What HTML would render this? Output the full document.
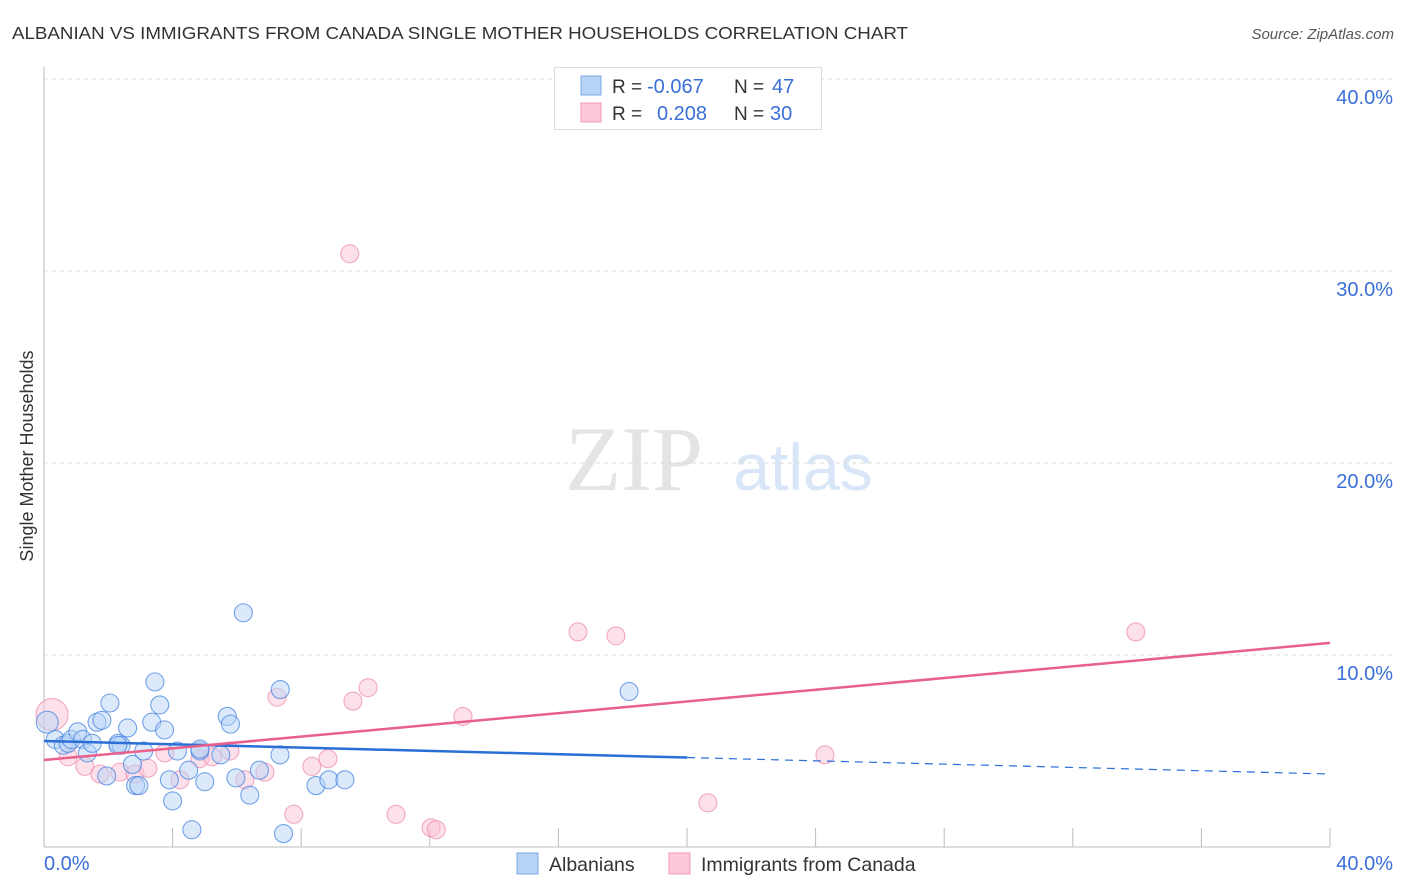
<!DOCTYPE html>
<html><head><meta charset="utf-8"><style>
body{margin:0;background:#fff;font-family:"Liberation Sans",sans-serif;}
svg{display:block}
</style></head><body>
<svg width="1406" height="892" xmlns="http://www.w3.org/2000/svg">
<text x="12" y="39" font-size="17.5" fill="#333" textLength="896" lengthAdjust="spacingAndGlyphs">ALBANIAN VS IMMIGRANTS FROM CANADA SINGLE MOTHER HOUSEHOLDS CORRELATION CHART</text>
<text x="1394" y="39" font-size="15" fill="#555" font-style="italic" text-anchor="end">Source: ZipAtlas.com</text>
<text x="33" y="456" font-size="18" fill="#333" text-anchor="middle" transform="rotate(-90 33 456)">Single Mother Households</text>
<g>
<text x="634" y="490" font-size="92" fill="#e4e4e4" font-family="Liberation Serif,serif" text-anchor="middle">ZIP</text>
<text x="803" y="490" font-size="66" fill="#d8e6f7" text-anchor="middle">atlas</text>
</g>
<g id="grid"></g>
<g id="axes"></g>
<g id="marks"></g>
<g>
<rect x="554.5" y="67.5" width="267" height="62" fill="#fff" stroke="#ddd"/>
<rect x="581" y="76" width="20" height="19" fill="#b7d3f5" stroke="#7aaae6"/>
<rect x="581" y="103" width="20" height="19" fill="#fdc9d9" stroke="#f09ab5"/>
<text x="612" y="93" font-size="19" fill="#333">R =</text><text x="647" y="93" font-size="20" fill="#3a6fd8">-0.067</text>
<text x="734" y="93" font-size="19" fill="#333">N =</text><text x="772" y="93" font-size="20" fill="#3a6fd8">47</text>
<text x="612" y="120" font-size="19" fill="#333">R =</text><text x="657" y="120" font-size="20" fill="#3a6fd8">0.208</text>
<text x="734" y="120" font-size="19" fill="#333">N =</text><text x="770" y="120" font-size="20" fill="#3a6fd8">30</text>
</g>
<g>
<rect x="517" y="853" width="21" height="21" fill="#b7d3f5" stroke="#7aaae6"/>
<text x="549" y="871" font-size="19.5" fill="#333">Albanians</text>
<rect x="669" y="853" width="21" height="21" fill="#fdc9d9" stroke="#f09ab5"/>
<text x="701" y="871" font-size="19.5" fill="#333">Immigrants from Canada</text>
</g>
</svg>
<script>
const yTicks=[10,20,30,40];
const yTickLabels=["10.0%","20.0%","30.0%","40.0%"];
const xTickCount=10;
const albX=[0.1,0.35,0.6,0.75,0.85,1.05,1.2,1.35,1.5,1.65,1.8,1.95,2.05,2.3,2.4,2.6,2.75,2.85,2.95,3.1,3.35,3.45,3.6,3.75,3.9,4.0,4.15,4.5,4.6,4.85,4.85,5.0,5.5,5.7,5.8,5.97,6.2,6.4,6.7,7.34,7.35,7.45,8.46,8.86,9.36,18.2,2.3];
const albY=[6.5,5.6,5.3,5.4,5.6,6.0,5.6,4.9,5.4,6.5,6.6,3.7,7.5,5.4,5.3,6.2,4.3,3.2,3.2,5.0,6.5,8.6,7.4,6.1,3.5,2.4,5.0,4.0,0.9,5.0,5.1,3.4,4.8,6.8,6.4,3.6,12.2,2.7,4.0,4.8,8.2,0.7,3.2,3.5,3.5,8.1,5.3];
const canX=[0.25,0.75,1.27,1.74,2.36,2.83,3.23,3.76,4.23,4.85,5.23,5.78,6.25,6.87,7.25,7.77,8.33,8.83,9.51,9.61,10.08,10.95,12.04,12.2,13.03,16.61,17.79,20.65,24.29,33.96];
const canY=[6.9,4.7,4.2,3.8,3.9,3.8,4.1,4.9,3.5,4.6,4.7,5.0,3.5,3.9,7.8,1.7,4.2,4.6,30.9,7.6,8.3,1.7,1.0,0.9,6.8,11.2,11.0,2.3,4.8,11.2];
const albR=[0,40];const albLine=[5.52,3.80];
const canR=[0,40];const canLine=[4.53,10.63];
const albSolidEnd=20;
const NS="http://www.w3.org/2000/svg";
const X=v=>44+v*32.15, Y=v=>847-v*19.2;
function mk(t,a,p){const e=document.createElementNS(NS,t);for(const k in a)e.setAttribute(k,a[k]);p.appendChild(e);return e;}
const grid=document.getElementById('grid'),axes=document.getElementById('axes'),marks=document.getElementById('marks');
yTicks.forEach((t,i)=>{
 const g=mk('line',{x1:44,x2:1394,y1:Y(t),y2:Y(t),stroke:'#ddd','stroke-dasharray':'4,4'},grid);
 
 
 const l=mk('text',{x:1393,y:Y(t)+25,'font-size':20,fill:'#3a6fd8','text-anchor':'end'},axes);
 l.textContent=yTickLabels[i];
 
 
});
const ya=mk('line',{x1:44,x2:44,y1:67,y2:847,stroke:'#bbb'},axes);


const xa=mk('line',{x1:44,x2:1330,y1:847,y2:847,stroke:'#bbb'},axes);


for(let i=1;i<=xTickCount;i++){const v=i*40/xTickCount;
 const t=mk('line',{x1:X(v),x2:X(v),y1:828,y2:847,stroke:'#bbb'},axes);
 
 }
const x0=mk('text',{x:44,y:870,'font-size':20,fill:'#3a6fd8'},axes);x0.textContent='0.0%';


const x1=mk('text',{x:1393,y:870,'font-size':20,fill:'#3a6fd8','text-anchor':'end'},axes);x1.textContent='40.0%';


function dots(xs,ys,fill,stroke,name){xs.forEach((x,i)=>{
 const r=(i===0)?(name==='canada-point'?16:11):9;
 const c=mk('circle',{cx:X(x),cy:Y(ys[i]),r:r,fill:fill,'fill-opacity':0.5,stroke:stroke,'stroke-opacity':0.75,'stroke-width':1.1},marks);
 
 });}
dots(canX,canY,'#fbc3d5','#ee8fae','canada-point');
dots(albX,albY,'#b7d3f5','#4a86e0','albanian-point');
const ay=v=>albLine[0]+(albLine[1]-albLine[0])*(v-albR[0])/(albR[1]-albR[0]);
const l1=mk('line',{x1:X(albR[0]),y1:Y(ay(albR[0])),x2:X(albSolidEnd),y2:Y(ay(albSolidEnd)),stroke:'#2a6fd6','stroke-width':2.5},marks);


const l2=mk('line',{x1:X(albSolidEnd),y1:Y(ay(albSolidEnd)),x2:X(albR[1]),y2:Y(ay(albR[1])),stroke:'#2a6fd6','stroke-width':1.2,'stroke-dasharray':'8,6'},marks);


const l3=mk('line',{x1:X(canR[0]),y1:Y(canLine[0]),x2:X(canR[1]),y2:Y(canLine[1]),stroke:'#e8608c','stroke-width':2.5},marks);


</script>
</body></html>
